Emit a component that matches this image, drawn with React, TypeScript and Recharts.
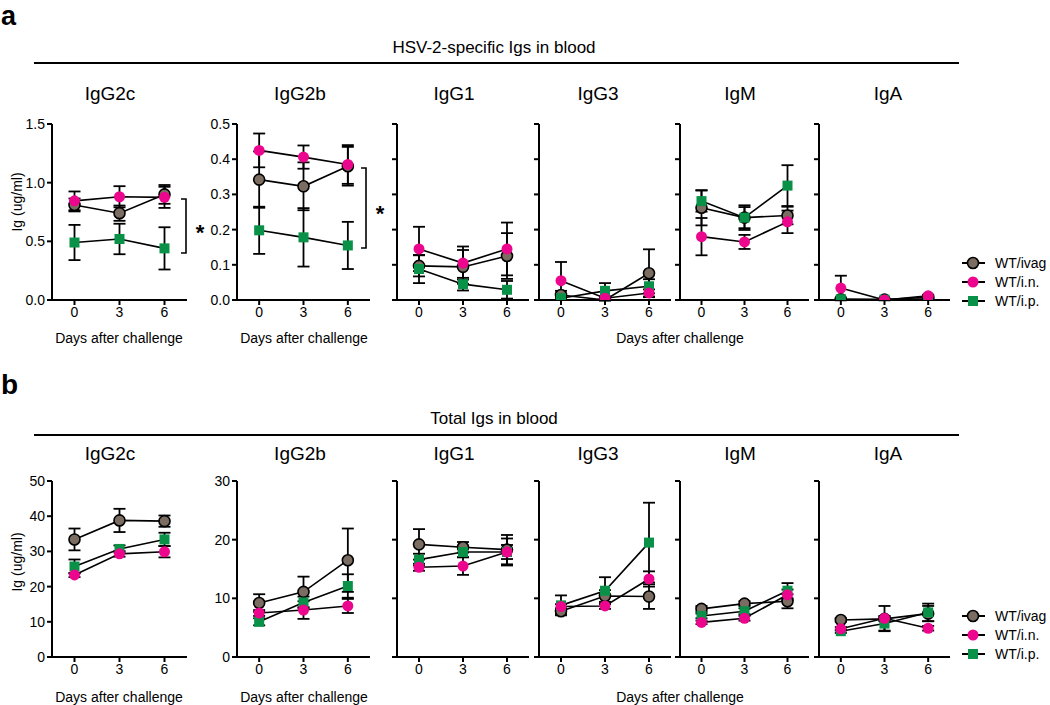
import React from "react";
import { LineChart, Line, XAxis, YAxis, ErrorBar } from "recharts";

const days = [0, 3, 6];
const panelNames = ["IgG2c", "IgG2b", "IgG1", "IgG3", "IgM", "IgA"];
const seriesNames = ["WT/ivag", "WT/i.n.", "WT/i.p."];

// a: HSV-2-specific Igs in blood (one triplet per panel, days 0/3/6)
const hsvIvag = [[0.81, 0.74, 0.9], [0.342, 0.323, 0.38], [0.097, 0.094, 0.125], [0.014, 0.0, 0.076], [0.262, 0.234, 0.24], [0.002, 0.001, 0.008]];
const hsvIvagErr = [[0.055, 0.065, 0.08], [0.08, 0.068, 0.055], [0.03, 0.048, 0.065], [0.012, 0.002, 0.068], [0.05, 0.03, 0.025], [0.002, 0.001, 0.002]];
const hsvIn = [[0.845, 0.88, 0.875], [0.425, 0.406, 0.385], [0.145, 0.105, 0.145], [0.055, 0.005, 0.02], [0.18, 0.165, 0.222], [0.034, 0.0, 0.012]];
const hsvInErr = [[0.08, 0.09, 0.09], [0.048, 0.033, 0.055], [0.063, 0.047, 0.075], [0.053, 0.005, 0.01], [0.053, 0.02, 0.032], [0.035, 0.001, 0.003]];
const hsvIp = [[0.49, 0.52, 0.44], [0.198, 0.178, 0.155], [0.088, 0.045, 0.029], [0.005, 0.026, 0.039], [0.281, 0.234, 0.325], [0.002, 0.001, 0.003]];
const hsvIpErr = [[0.15, 0.13, 0.18], [0.067, 0.083, 0.067], [0.04, 0.018, 0.025], [0.004, 0.022, 0.02], [0.03, 0.035, 0.058], [0.002, 0.001, 0.001]];

// b: Total Igs in blood
const totIvag = [[33.4, 38.8, 38.6], [9.2, 11.1, 16.5], [19.2, 18.7, 18.3], [7.8, 10.4, 10.3], [8.2, 9.1, 9.5], [6.3, 6.5, 7.4]];
const totIvagErr = [[3.1, 3.3, 1.6], [1.5, 2.6, 5.4], [2.6, 0.9, 2.5], [0.5, 1.0, 2.1], [0.5, 0.4, 1.2], [0.3, 0.4, 1.3]];
const totIn = [[23.3, 29.3, 29.9], [7.5, 8.0, 8.7], [15.3, 15.5, 17.9], [8.6, 8.7, 13.3], [5.9, 6.6, 10.6], [4.8, 6.6, 4.9]];
const totInErr = [[0.6, 0.8, 1.6], [0.5, 1.5, 1.2], [0.6, 1.5, 2.3], [0.4, 0.5, 1.3], [0.3, 0.4, 0.9], [0.3, 2.1, 0.4]];
const totIp = [[25.7, 30.7, 33.4], [6.0, 9.3, 12.1], [16.6, 17.9, 17.9], [8.8, 11.3, 19.5], [7.0, 7.8, 11.3], [4.4, 5.7, 7.6]];
const totIpErr = [[2.0, 1.0, 1.9], [0.6, 1.0, 2.0], [1.0, 0.9, 1.2], [1.7, 2.3, 6.8], [0.4, 0.5, 1.3], [0.3, 1.3, 1.5]];

const hsvTicksFirst = [0, 0.5, 1.0, 1.5];
const hsvTicks = [0, 0.1, 0.2, 0.3, 0.4, 0.5];
const totTicksFirst = [0, 10, 20, 30, 40, 50];
const totTicks = [0, 10, 20, 30];

const BROWN = "#7b6d61";
const PINK = "#ec068d";
const GREEN = "#0a9148";
const FONT = "'Liberation Sans', Arial, sans-serif";

// x extents of each panel's plot area (y axis -> end of x axis)
const panelX = [[52, 187], [237, 370], [397, 529], [539, 671], [680, 809], [819, 950]];

const Circle = (fill: string, outline: boolean) => (p: any) => {
  if (p.cx == null || p.cy == null) return <g key={p.index} />;
  return (
    <circle key={p.index} cx={p.cx} cy={p.cy} r={5.5} fill={fill}
      stroke={outline ? "#000" : "none"} strokeWidth={outline ? 1.6 : 0} />
  );
};
const Square = (fill: string) => (p: any) => {
  if (p.cx == null || p.cy == null) return <g key={p.index} />;
  return <rect key={p.index} x={p.cx - 5} y={p.cy - 5} width={10} height={10} fill={fill} />;
};

function Panel(props: {
  idx: number; top: number; bottom: number; yMax: number; ticks: number[];
  labels: boolean; digits: number;
  ivag: number[]; ivagErr: number[]; inn: number[]; innErr: number[]; ip: number[]; ipErr: number[];
}) {
  const { idx, top, bottom, yMax, ticks, labels, digits } = props;
  const [left, right] = panelX[idx];
  const ML = 44, MR = 4, MT = 8, MB = 30;
  const data = days.map((d, i) => ({
    day: d,
    ivag: props.ivag[i], ivagErr: props.ivagErr[i],
    inn: props.inn[i], innErr: props.innErr[i],
    ip: props.ip[i], ipErr: props.ipErr[i],
  }));
  const tick = { fontSize: 14, fill: "#000", fontFamily: FONT };
  return (
    <div style={{ position: "absolute", left: left - ML, top: top - MT }}>
      <LineChart width={right - left + ML + MR} height={bottom - top + MT + MB} data={data}
        margin={{ top: MT, right: MR, bottom: 0, left: 0 }}>
        <XAxis type="number" dataKey="day" domain={[-1.5, 7.5]} ticks={days} height={MB}
          stroke="#000" strokeWidth={2} tickSize={5} tick={tick} interval={0} />
        <YAxis type="number" domain={[0, yMax]} ticks={ticks} width={ML} allowDataOverflow
          stroke="#000" strokeWidth={2} tickSize={5} tick={tick} interval={0}
          tickFormatter={(v: number) => (labels ? v.toFixed(digits) : "")} />
        <Line dataKey="ivag" stroke="#000" strokeWidth={1.6} isAnimationActive={false}
          dot={Circle(BROWN, true)} activeDot={false}>
          <ErrorBar dataKey="ivagErr" direction="y" width={6} stroke="#000" strokeWidth={1.8} />
        </Line>
        <Line dataKey="ip" stroke="#000" strokeWidth={1.6} isAnimationActive={false}
          dot={Square(GREEN)} activeDot={false}>
          <ErrorBar dataKey="ipErr" direction="y" width={6} stroke="#000" strokeWidth={1.8} />
        </Line>
        <Line dataKey="inn" stroke="#000" strokeWidth={1.6} isAnimationActive={false}
          dot={Circle(PINK, false)} activeDot={false}>
          <ErrorBar dataKey="innErr" direction="y" width={6} stroke="#000" strokeWidth={1.8} />
        </Line>
      </LineChart>
    </div>
  );
}

function Legend({ y0 }: { y0: number }) {
  const rows = [y0, y0 + 19, y0 + 38];
  return (
    <g>
      {seriesNames.map((name, i) => {
        const y = rows[i];
        return (
          <g key={name}>
            <line x1={962} x2={985} y1={y} y2={y} stroke="#000" strokeWidth={2} />
            {i === 0 && <circle cx={973} cy={y} r={5.5} fill={BROWN} stroke="#000" strokeWidth={1.6} />}
            {i === 1 && <circle cx={973} cy={y} r={5.5} fill={PINK} />}
            {i === 2 && <rect x={968} y={y - 5} width={10} height={10} fill={GREEN} />}
            <text x={995} y={y + 5} fontSize={14} fontFamily={FONT}>{name}</text>
          </g>
        );
      })}
    </g>
  );
}

export default function App() {
  const top1 = 124, bot1 = 300, top2 = 481, bot2 = 657;
  const titleX = [110, 300, 454, 598, 740, 888];
  return (
    <div style={{ position: "absolute", left: 0, top: 0, width: 1050, height: 705, background: "#fff", overflow: "hidden" }}>
      {panelNames.map((_, i) => (
        <Panel key={"a" + i} idx={i} top={top1} bottom={bot1} yMax={i === 0 ? 1.5 : 0.5}
          ticks={i === 0 ? hsvTicksFirst : hsvTicks} labels={i < 2} digits={1}
          ivag={hsvIvag[i]} ivagErr={hsvIvagErr[i]} inn={hsvIn[i]} innErr={hsvInErr[i]}
          ip={hsvIp[i]} ipErr={hsvIpErr[i]} />
      ))}
      {panelNames.map((_, i) => (
        <Panel key={"b" + i} idx={i} top={top2} bottom={bot2} yMax={i === 0 ? 50 : 30}
          ticks={i === 0 ? totTicksFirst : totTicks} labels={i < 2} digits={0}
          ivag={totIvag[i]} ivagErr={totIvagErr[i]} inn={totIn[i]} innErr={totInErr[i]}
          ip={totIp[i]} ipErr={totIpErr[i]} />
      ))}
      <svg width={1050} height={705} style={{ position: "absolute", left: 0, top: 0, pointerEvents: "none" }}
        fontFamily={FONT}>
        <text x={1} y={25} fontSize={27} fontWeight="bold">a</text>
        <text x={1} y={394} fontSize={28} fontWeight="bold">b</text>
        <text x={494} y={53} fontSize={17} textAnchor="middle">HSV-2-specific Igs in blood</text>
        <line x1={34} x2={959} y1={63} y2={63} stroke="#000" strokeWidth={2} />
        <text x={494} y={424} fontSize={17} textAnchor="middle">Total Igs in blood</text>
        <line x1={34} x2={959} y1={435} y2={435} stroke="#000" strokeWidth={2} />
        {panelNames.map((n, i) => (
          <g key={n}>
            <text x={titleX[i]} y={100} fontSize={19} textAnchor="middle">{n}</text>
            <text x={titleX[i]} y={460} fontSize={19} textAnchor="middle">{n}</text>
          </g>
        ))}
        <text transform="translate(22,202) rotate(-90)" fontSize={14} textAnchor="middle">Ig (ug/ml)</text>
        <text transform="translate(22,562) rotate(-90)" fontSize={14} textAnchor="middle">Ig (ug/ml)</text>
        <text x={119} y={343} fontSize={14} textAnchor="middle">Days after challenge</text>
        <text x={304} y={343} fontSize={14} textAnchor="middle">Days after challenge</text>
        <text x={680} y={343} fontSize={14} textAnchor="middle">Days after challenge</text>
        <text x={119} y={702} fontSize={14} textAnchor="middle">Days after challenge</text>
        <text x={304} y={702} fontSize={14} textAnchor="middle">Days after challenge</text>
        <text x={680} y={702} fontSize={14} textAnchor="middle">Days after challenge</text>
        <path d="M181,199 H186 V253 H181" fill="none" stroke="#000" strokeWidth={1.6} />
        <text x={200} y={240} fontSize={22} fontWeight="bold" textAnchor="middle">*</text>
        <path d="M361,168 H366 V248 H361" fill="none" stroke="#000" strokeWidth={1.6} />
        <text x={380} y={221} fontSize={22} fontWeight="bold" textAnchor="middle">*</text>
        <Legend y0={263} />
        <Legend y0={616} />
      </svg>
    </div>
  );
}
